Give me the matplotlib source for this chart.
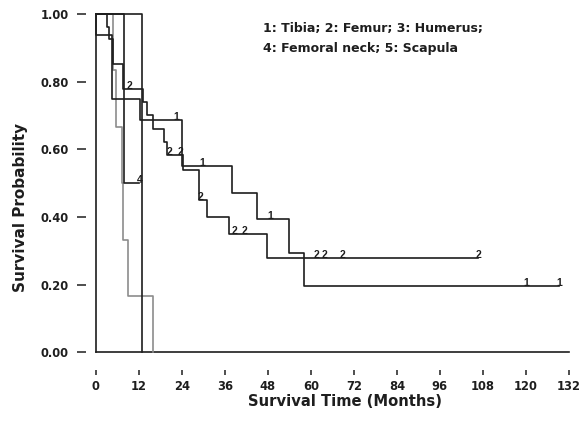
import numpy as np
import matplotlib
matplotlib.use("Agg")
import matplotlib.pyplot as plt

# follow-up in months, event 1 = death, 0 = censored
tibia_time = [0.0, 4.6, 4.6, 4.6, 12.35, 22.6, 24.0, 24.0, 29.6, 37.9, 45.1, 48.8, 54.0, 58.1, 120.0, 129.3]
tibia_event = [1, 1, 1, 1, 1, 0, 1, 1, 0, 1, 1, 0, 1, 1, 0, 0]

femur_time = [3.1, 3.8, 4.75, 4.75, 7.7, 7.7, 9.4, 13.3, 14.3, 16.1, 19.05, 20.0, 20.7, 23.7,
              24.4, 28.9, 28.9, 29.2, 30.95, 37.2, 38.8, 41.6, 47.85, 61.6, 63.9, 68.9, 106.7]
femur_event = [1, 1, 1, 1, 1, 1, 0, 1, 1, 1, 1, 1, 0, 0,
               1, 1, 1, 0, 1, 1, 0, 0, 1, 0, 0, 0, 0]

humerus_time = [4.7, 5.7, 7.25, 7.7, 8.87, 16.0]
humerus_event = [1, 1, 1, 1, 1, 1]

neck_time = [8.0, 12.2]
neck_event = [1, 0]

scapula_time = [13.0]
scapula_event = [1]

groups = [
    ("3", humerus_time, humerus_event, "#8c8c8c"),
    ("1", tibia_time, tibia_event, "#1e1e1e"),
    ("2", femur_time, femur_event, "#1e1e1e"),
    ("4", neck_time, neck_event, "#1e1e1e"),
    ("5", scapula_time, scapula_event, "#1e1e1e"),
]

x_ticks = list(range(0, 133, 12))
y_ticks = [0.0, 0.2, 0.4, 0.6, 0.8, 1.0]


def kaplan_meier(times, events):
    t = np.array(times)
    e = np.array(events)
    xs, ys = [0.0], [1.0]
    cens_x, cens_y = [], []
    s = 1.0
    for u in np.unique(t):
        at_risk = (t >= u).sum()
        d = e[t == u].sum()
        if d:
            s *= 1 - d / at_risk
            xs.append(u)
            ys.append(s)
        for _ in range(int((e[t == u] == 0).sum())):
            cens_x.append(u)
            cens_y.append(s)
    xs.append(t.max())
    ys.append(s)
    return xs, ys, cens_x, cens_y


fig = plt.figure(figsize=(5.87, 4.26), dpi=100)
ax = fig.add_axes([95.7 / 587, 1 - 352.3 / 426, 473.3 / 587, 338.3 / 426])
ax.set_xlim(0, 132)
ax.set_ylim(0, 1)

for label, t, e, col in groups:
    xs, ys, cx, cy = kaplan_meier(t, e)
    ax.step(xs, ys, where="post", color=col, lw=1.2, clip_on=False, zorder=3)
    for x, y in zip(cx, cy):
        ax.text(x, y, label, ha="center", va="baseline", fontsize=7.5,
                fontweight="bold", family="Liberation Sans", color=col, zorder=4)

# frame lines along the axes
ax.plot([0, 0], [0, 1], color="#1e1e1e", lw=1.2, clip_on=False, zorder=2)
ax.plot([0, 132], [0, 0], color="#1e1e1e", lw=1.2, clip_on=False, zorder=2)

for side in ["top", "right"]:
    ax.spines[side].set_visible(False)
# ticks sit detached from the frame (offsets in points)
ax.spines["left"].set_position(("outward", 7.2))
ax.spines["bottom"].set_position(("outward", 13))
ax.spines["left"].set_color("none")
ax.spines["bottom"].set_color("none")

ax.set_xticks(x_ticks)
ax.set_yticks(y_ticks)
ax.set_yticklabels([f"{v:.2f}" for v in y_ticks])
ax.tick_params(axis="y", length=6.5, width=1.1, pad=6, colors="#1e1e1e")
ax.tick_params(axis="x", length=3.6, width=1.1, pad=3.5, colors="#1e1e1e")
for lab in ax.get_xticklabels() + ax.get_yticklabels():
    lab.set_fontsize(8.3)
    lab.set_fontweight("bold")
    lab.set_family("DejaVu Sans")

fig.text(345 / 587, 1 - 401 / 426, "Survival Time (Months)", ha="center", va="center",
         fontsize=10.6, fontweight="bold", color="#1e1e1e")
fig.text(21 / 587, 1 - 207 / 426, "Survival Probability", ha="center", va="center",
         rotation=90, fontsize=11, fontweight="bold", color="#1e1e1e")

fig.text(263 / 587, 1 - 31.7 / 426, "1: Tibia; 2: Femur; 3: Humerus;", ha="left",
         va="baseline", fontsize=9, fontweight="bold", color="#1e1e1e")
fig.text(263 / 587, 1 - 51.7 / 426, "4: Femoral neck; 5: Scapula", ha="left",
         va="baseline", fontsize=9, fontweight="bold", color="#1e1e1e")

fig.savefig("out.png", dpi=100)
